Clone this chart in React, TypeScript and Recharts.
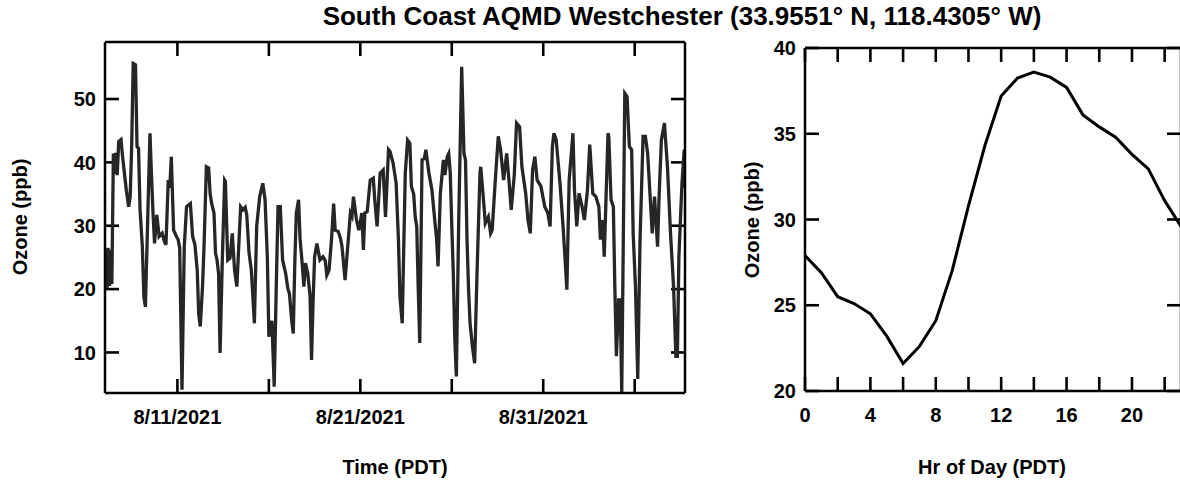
import React from "react";
import { LineChart, Line, XAxis, YAxis, ReferenceLine } from "recharts";

// hours since 8/7/2021 00:00 PDT
const hoursSinceStart = [
  1, 2, 4, 5, 7, 9, 10, 12, 14, 15, 17, 19, 22, 24, 26, 29, 32, 34, 36, 38,
  41, 43, 45, 47, 50, 52, 54, 60, 62, 64, 66, 69, 72, 76, 79, 81, 84, 86, 88, 91,
  94, 97, 99, 102, 105, 108, 113, 116, 119, 122, 124, 126, 129, 131, 134, 137, 139, 141, 144, 146,
  148, 150, 152, 155, 158, 159, 162, 165, 168, 171, 174, 177, 179, 182, 185, 187, 190, 193, 197, 200,
  204, 208, 211, 214, 216, 218, 220, 223, 226, 228, 231, 234, 238, 241, 243, 246, 248, 250, 252, 255,
  257, 259, 262, 264, 267, 270, 272, 274, 276, 279, 283, 287, 290, 292, 295, 298, 301, 303, 307, 310,
  312, 316, 319, 323, 325, 327, 331, 334, 338, 340, 342, 345, 349, 353, 355, 358, 360, 362, 366, 369,
  373, 375, 379, 383, 386, 388, 391, 393, 395, 398, 401, 403, 406, 408, 410, 412, 414, 417, 420, 422,
  426, 430, 434, 436, 438, 441, 445, 447, 450, 452, 454, 456, 458, 460, 462, 465, 469, 472, 474, 476,
  478, 480, 483, 486, 489, 493, 494, 497, 500, 504, 507, 509, 513, 517, 520, 524, 528, 531, 534, 538,
  541, 545, 548, 553, 556, 559, 562, 565, 568, 573, 578, 582, 585, 588, 590, 593, 598, 602, 605, 607,
  610, 615, 617, 620, 623, 627, 630, 634, 637, 641, 645, 649, 651, 654, 656, 661, 662, 665, 668, 670,
  672, 675, 677, 679, 683, 686, 689, 692, 694, 697, 700, 703, 707, 710, 713, 717, 719, 722, 726, 728,
  731, 735, 739, 743, 747, 750, 752, 754, 758, 761, 762,
];

const ozonePpb = [
  23.5, 26.5, 20.2, 26.5, 20.5, 26.2, 20.8, 41.4, 38.2, 41.5, 38.0, 43.3, 43.6, 41.0, 38.8, 35.6, 33.0, 34.5, 42.5, 55.6,
  55.4, 42.5, 42.2, 32.5, 26.7, 18.8, 17.2, 44.6, 38.0, 32.0, 27.2, 31.7, 28.3, 28.8, 27.5, 27.0, 37.2, 36.0, 40.9, 29.3,
  28.5, 27.8, 26.5, 4.1, 26.7, 33.0, 33.5, 28.3, 27.0, 23.0, 16.0, 14.1, 20.5, 27.0, 39.3, 39.1, 35.0, 33.5, 32.0, 25.7,
  24.6, 22.5, 9.9, 25.0, 37.2, 37.0, 24.6, 24.9, 28.8, 23.0, 20.4, 28.0, 33.0, 32.5, 32.9, 31.7, 25.7, 23.0, 14.6, 29.9,
  34.6, 36.7, 34.1, 25.0, 12.5, 13.6, 15.0, 4.6, 22.0, 33.0, 33.0, 24.6, 22.5, 20.0, 19.3, 15.0, 13.0, 24.0, 32.0, 34.1,
  27.8, 25.1, 20.4, 24.1, 22.5, 19.0, 8.8, 18.0, 25.1, 27.2, 24.6, 25.1, 24.5, 22.2, 23.0, 27.5, 33.5, 29.3, 29.1, 28.0,
  26.7, 21.4, 26.0, 32.0, 31.5, 34.6, 30.9, 29.3, 32.0, 26.2, 32.0, 32.2, 37.2, 37.5, 34.0, 29.9, 34.0, 38.3, 38.8, 31.4,
  42.0, 41.7, 39.9, 36.7, 27.8, 18.8, 14.6, 26.7, 38.3, 43.5, 43.0, 36.2, 35.0, 31.4, 29.9, 20.0, 11.5, 40.4, 40.6, 42.0,
  38.3, 35.6, 30.4, 28.0, 23.6, 35.1, 40.4, 38.0, 40.9, 41.4, 38.3, 30.0, 22.5, 12.0, 6.2, 30.0, 55.1, 41.4, 40.4, 27.8,
  20.0, 14.6, 11.0, 8.3, 22.0, 38.3, 39.3, 35.0, 30.4, 31.4, 28.8, 29.3, 37.0, 44.1, 42.0, 37.2, 41.4, 37.2, 32.5, 38.0,
  46.2, 45.6, 39.3, 35.1, 30.9, 28.8, 38.8, 40.9, 37.2, 36.2, 33.0, 32.0, 29.9, 42.5, 44.6, 43.5, 36.7, 29.9, 24.0, 19.9,
  37.2, 44.6, 35.6, 29.9, 35.1, 33.0, 30.9, 35.6, 42.8, 35.1, 34.6, 33.0, 27.8, 30.9, 25.1, 44.6, 44.1, 34.1, 33.0, 20.0,
  9.4, 18.3, 18.3, 3.6, 50.9, 50.4, 42.5, 42.0, 28.8, 20.4, 5.8, 27.8, 44.1, 44.1, 41.4, 33.0, 28.8, 34.6, 26.7, 34.6,
  43.5, 46.2, 39.3, 28.8, 20.4, 9.4, 9.4, 25.1, 36.7, 42.0, 36.0,
];

const dateTicks = [96, 216, 336, 456, 576, 696];
const dateTickLabels = ["8/11/2021", "", "8/21/2021", "", "8/31/2021", ""];
const ozoneTicks = [10, 20, 30, 40, 50];

// mean diurnal cycle
const hourOfDay = [0, 1, 2, 3, 4, 5, 6, 7, 8, 9, 10, 11, 12, 13, 14, 15, 16, 17, 18, 19, 20, 21, 22, 23];
const diurnalOzone = [
  27.9, 26.9, 25.5, 25.1, 24.5, 23.2, 21.6, 22.6, 24.1, 27.0, 30.8, 34.3,
  37.2, 38.25, 38.6, 38.3, 37.7, 36.1, 35.4, 34.8, 33.8, 32.95, 31.1, 29.6,
];
const hourTicks = [0, 2, 4, 6, 8, 10, 12, 14, 16, 18, 20, 22];
const hourTickLabels = ["0", "", "4", "", "8", "", "12", "", "16", "", "20", ""];
const diurnalTicks = [20, 25, 30, 35, 40];

const FONT = '"Liberation Sans", Arial, Helvetica, sans-serif';
const axisLineStyle = { stroke: "#000", strokeWidth: 2.5 };
const TICK_LEN = 14;
const TICK_W = 2.6;

const seriesData = hoursSinceStart.map((h, i) => ({ h, v: ozonePpb[i] }));
const diurnalData = hourOfDay.map((h, i) => ({ h, v: diurnalOzone[i] }));

// tick labels only; the tick marks come from the reference lines below
const makeLabel = (side: "bottom" | "left", format: (v: number) => string) => (props: any) => {
  const { x, y, payload } = props;
  const label = format(payload.value);
  if (!label) return <g />;
  if (side === "bottom") {
    return (
      <text x={x} y={y + 17} dy="0.71em" textAnchor="middle" fontSize={20} fontWeight="bold" fontFamily={FONT} fill="#000">
        {label}
      </text>
    );
  }
  return (
    <text x={x - 9} y={y} dy="0.36em" textAnchor="end" fontSize={20} fontWeight="bold" fontFamily={FONT} fill="#000">
      {label}
    </text>
  );
};

// short inward marks at both ends of a reference line (top+bottom or left+right)
const VerticalTicks = (props: any) => {
  const { x1, y1, y2 } = props;
  const top = Math.min(y1, y2);
  const bot = Math.max(y1, y2);
  return (
    <g>
      <line x1={x1} y1={top} x2={x1} y2={top + TICK_LEN} stroke="#000" strokeWidth={TICK_W} />
      <line x1={x1} y1={bot} x2={x1} y2={bot - TICK_LEN} stroke="#000" strokeWidth={TICK_W} />
    </g>
  );
};
const HorizontalTicks = (props: any) => {
  const { x1, x2, y1 } = props;
  const l = Math.min(x1, x2);
  const r = Math.max(x1, x2);
  return (
    <g>
      <line x1={l} y1={y1} x2={l + TICK_LEN} y2={y1} stroke="#000" strokeWidth={TICK_W} />
      <line x1={r} y1={y1} x2={r - TICK_LEN} y2={y1} stroke="#000" strokeWidth={TICK_W} />
    </g>
  );
};

const dateLabel = (v: number) => dateTickLabels[dateTicks.indexOf(v)] ?? "";
const hourLabel = (v: number) => hourTickLabels[hourTicks.indexOf(v)] ?? "";
const numLabel = (v: number) => String(v);

const axisTitle: React.CSSProperties = {
  position: "absolute",
  width: 240,
  height: 24,
  lineHeight: "24px",
  fontSize: 20,
  fontWeight: "bold",
  textAlign: "center",
  color: "#000",
};

export default function App() {
  const tMin = hoursSinceStart[0];
  const tMax = hoursSinceStart[hoursSinceStart.length - 1];
  return (
    <div
      style={{
        position: "absolute",
        left: 0,
        top: 0,
        width: 1180,
        height: 482,
        overflow: "hidden",
        background: "#fff",
        fontFamily: FONT,
      }}
    >
      <div
        style={{
          position: "absolute",
          left: 282,
          top: 1,
          width: 800,
          textAlign: "center",
          fontSize: 26,
          lineHeight: "30px",
          fontWeight: "bold",
          color: "#000",
          whiteSpace: "nowrap",
        }}
      >
        South Coast AQMD Westchester (33.9551° N, 118.4305° W)
      </div>

      <div style={{ position: "absolute", left: 0, top: 0 }}>
        <LineChart width={700} height={482} data={seriesData} margin={{ top: 41, right: 14, bottom: 49, left: 45 }}>
          <XAxis
            dataKey="h"
            type="number"
            domain={[tMin, tMax]}
            allowDataOverflow
            ticks={dateTicks}
            interval={0}
            height={40}
            tickSize={0}
            tickMargin={0}
            tick={makeLabel("bottom", dateLabel)}
            axisLine={axisLineStyle}
            tickLine={false}
          />
          <XAxis
            xAxisId="top"
            orientation="top"
            dataKey="h"
            type="number"
            domain={[tMin, tMax]}
            allowDataOverflow
            height={1}
            tick={false}
            axisLine={axisLineStyle}
            tickLine={false}
          />
          <YAxis
            type="number"
            domain={[3.6, 59]}
            allowDataOverflow
            ticks={ozoneTicks}
            interval={0}
            width={60}
            tickSize={0}
            tickMargin={0}
            tick={makeLabel("left", numLabel)}
            axisLine={axisLineStyle}
            tickLine={false}
          />
          <YAxis
            yAxisId="right"
            orientation="right"
            type="number"
            domain={[3.6, 59]}
            allowDataOverflow
            width={1}
            tick={false}
            axisLine={axisLineStyle}
            tickLine={false}
          />
          {dateTicks.map((t) => (
            <ReferenceLine key={`dt-${t}`} x={t} shape={VerticalTicks} />
          ))}
          {ozoneTicks.map((v) => (
            <ReferenceLine key={`oz-${v}`} y={v} shape={HorizontalTicks} />
          ))}
          <Line
            dataKey="v"
            type="linear"
            stroke="#262626"
            strokeWidth={3.3}
            dot={false}
            isAnimationActive={false}
          />
        </LineChart>
      </div>

      <div style={{ position: "absolute", left: 720, top: 0 }}>
        <LineChart width={470} height={482} data={diurnalData} margin={{ top: 47, right: 8, bottom: 51, left: 25 }}>
          <XAxis
            dataKey="h"
            type="number"
            domain={[0, 23]}
            allowDataOverflow
            ticks={hourTicks}
            interval={0}
            height={40}
            tickSize={0}
            tickMargin={0}
            tick={makeLabel("bottom", hourLabel)}
            axisLine={axisLineStyle}
            tickLine={false}
          />
          <XAxis
            xAxisId="top"
            orientation="top"
            dataKey="h"
            type="number"
            domain={[0, 23]}
            allowDataOverflow
            height={1}
            tick={false}
            axisLine={axisLineStyle}
            tickLine={false}
          />
          <YAxis
            type="number"
            domain={[20, 40]}
            allowDataOverflow
            ticks={diurnalTicks}
            interval={0}
            width={60}
            tickSize={0}
            tickMargin={0}
            tick={makeLabel("left", numLabel)}
            axisLine={axisLineStyle}
            tickLine={false}
          />
          <YAxis
            yAxisId="right"
            orientation="right"
            type="number"
            domain={[20, 40]}
            allowDataOverflow
            width={1}
            tick={false}
            axisLine={axisLineStyle}
            tickLine={false}
          />
          {hourTicks.map((h) => (
            <ReferenceLine key={`hr-${h}`} x={h} shape={VerticalTicks} />
          ))}
          {diurnalTicks.map((v) => (
            <ReferenceLine key={`dz-${v}`} y={v} shape={HorizontalTicks} />
          ))}
          <Line
            dataKey="v"
            type="linear"
            stroke="#000"
            strokeWidth={3}
            dot={false}
            isAnimationActive={false}
          />
        </LineChart>
      </div>

      <div style={{ ...axisTitle, left: 20 - 120, top: 217 - 12, transform: "rotate(-90deg)" }}>Ozone (ppb)</div>
      <div style={{ ...axisTitle, left: 752 - 120, top: 220 - 12, transform: "rotate(-90deg)" }}>Ozone (ppb)</div>
      <div style={{ ...axisTitle, left: 395 - 120, top: 455 }}>Time (PDT)</div>
      <div style={{ ...axisTitle, left: 992 - 120, top: 455 }}>Hr of Day (PDT)</div>
    </div>
  );
}
